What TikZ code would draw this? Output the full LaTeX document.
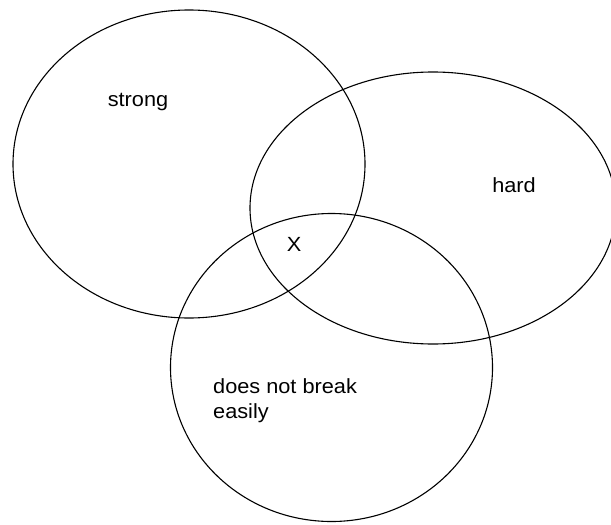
\documentclass[tikz,border=0pt]{standalone}
\usepackage{fontspec}
\setmainfont{Liberation Sans}[FakeStretch=1.06]
\usetikzlibrary{shapes.geometric,positioning}

\begin{document}
\begin{tikzpicture}[
    x=1pt, y=-1pt,
    set/.style={draw, ellipse, line width=1.1pt, inner sep=0pt},
    lbl/.style={inner sep=0pt, font=\fontsize{20.5}{25}\selectfont, align=left}
]
\useasboundingbox (0,0) rectangle (611,525);

\begin{scope}
\clip (0,0) rectangle (611,525);
\node[set, minimum width=352pt, minimum height=308pt] (strongset) at (189,164) {};
\node[set, minimum width=366pt, minimum height=272pt] (hardset) at (433,208) {};
\node[set, minimum width=322pt, minimum height=308pt] (breakset) at (331.5,367.5) {};
\end{scope}

\node[lbl] (strong) at (138,102) {strong};
\node[lbl] (hard) at (514,185) {hard};
\node[lbl] (x) at (294,244) {X};
\node[lbl, anchor=north west] (nobreak) at (213,378) {does not break\\easily};
\end{tikzpicture}
\end{document}
